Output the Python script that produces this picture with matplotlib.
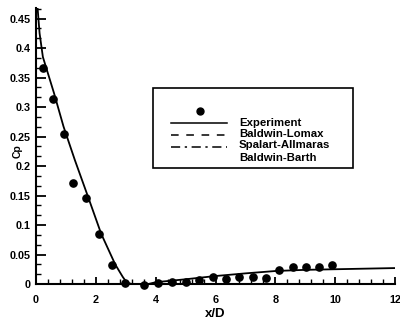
import matplotlib
matplotlib.use("Agg")
import matplotlib.pyplot as plt
from matplotlib.ticker import MultipleLocator, FixedLocator
from matplotlib.lines import Line2D
from matplotlib.patches import Rectangle

# Experimental pressure coefficient along the wall
exp_x = [0.25, 0.58, 0.93, 1.25, 1.68, 2.09, 2.54, 2.99, 3.62, 4.07, 4.55, 5.0,
         5.45, 5.9, 6.34, 6.79, 7.24, 7.68, 8.13, 8.58, 9.03, 9.47, 9.9]
exp_cp = [0.366, 0.314, 0.254, 0.172, 0.145, 0.085, 0.033, 0.002, -0.002, 0.001,
          0.004, 0.004, 0.006, 0.012, 0.008, 0.012, 0.012, 0.011, 0.024, 0.029,
          0.029, 0.029, 0.033]

# Computed pressure coefficient
cfd_x = [0.05, 0.12, 0.23, 0.6, 0.92, 1.3, 1.76, 2.18, 2.65, 2.9, 3.04, 3.3, 3.6,
         4.0, 5.0, 6.0, 7.0, 8.0, 9.0, 10.0, 11.0, 12.0]
cfd_cp = [0.47, 0.425, 0.385, 0.324, 0.267, 0.21, 0.145, 0.085, 0.033, 0.012,
          0.002, -0.001, -0.002, 0.003, 0.008, 0.0135, 0.018, 0.022, 0.024, 0.025,
          0.026, 0.027]

x_ticks = [0, 2, 4, 6, 8, 10, 12]
y_ticks = [0, 0.05, 0.1, 0.15, 0.2, 0.25, 0.3, 0.35, 0.4, 0.45]
y_tick_labels = ["0", "0.05", "0.1", "0.15", "0.2", "0.25", "0.3", "0.35", "0.4", "0.45"]
legend_labels = ["Experiment", "Baldwin-Lomax", "Spalart-Allmaras", "Baldwin-Barth"]

plt.rcParams["font.family"] = ["Liberation Sans", "DejaVu Sans"]

fig = plt.figure(figsize=(4.0, 3.21), dpi=100)
ax = fig.add_axes([0.09, 0.1153, 0.8975, 0.8597])

ax.plot(cfd_x, cfd_cp, color="black", lw=1.3, solid_capstyle="butt")
ax.plot(exp_x, exp_cp, "o", color="black", ms=5.2, clip_on=False, zorder=3)

ax.set_xlim(0, 12)
ax.set_ylim(0, 0.468)

for s in ["top", "right"]:
    ax.spines[s].set_visible(False)
for s in ["left", "bottom"]:
    ax.spines[s].set_linewidth(1.5)

ax.xaxis.set_major_locator(FixedLocator(x_ticks))
ax.xaxis.set_minor_locator(MultipleLocator(0.4))
ax.yaxis.set_major_locator(FixedLocator(y_ticks))
ax.yaxis.set_minor_locator(MultipleLocator(0.05 / 3))
ax.set_yticklabels(y_tick_labels)
ax.set_xticklabels([str(v) for v in x_ticks])

ax.tick_params(axis="both", which="major", direction="in", width=1.3,
               labelsize=7.8, colors="black")
ax.tick_params(axis="y", which="major", length=7, pad=4)
ax.tick_params(axis="x", which="major", length=5, pad=8)
ax.tick_params(axis="both", which="minor", direction="in", length=3.5, width=1.0)
for lbl in ax.get_xticklabels() + ax.get_yticklabels():
    lbl.set_fontweight("bold")

ax.set_xlabel("x/D", fontsize=9.5, fontweight="bold", labelpad=2)
fig.text(0.045, 1 - 151 / 321, "Cp", rotation=90, fontsize=7.5, fontweight="bold",
         ha="center", va="center")

# Legend panel drawn in figure pixel space
def fx(px):
    return px / 400

def fy(py):
    return 1 - py / 321

fig.patches.append(Rectangle((fx(152.5), fy(168)), fx(353) - fx(152.5), fy(88) - fy(168),
                             transform=fig.transFigure, fill=True, facecolor="white",
                             edgecolor="black", lw=1.2, zorder=5))
fig.lines.append(Line2D([fx(200)], [fy(111)], marker="o", ms=5, color="black",
                        transform=fig.transFigure, zorder=6))
styles = ["-", (0, (5, 5)), (0, (6, 3, 1.5, 3))]
line_rows = [123, 135, 147]
for ls, row in zip(styles, line_rows):
    fig.lines.append(Line2D([fx(171), fx(227)], [fy(row), fy(row)], ls=ls, lw=1.1,
                            color="black", transform=fig.transFigure, zorder=6))
text_rows = [122.5, 134, 145.5, 158]
for lab, row in zip(legend_labels, text_rows):
    fig.text(fx(239), fy(row), lab, fontsize=8.2, fontweight="bold", ha="left",
             va="center", zorder=7)

fig.savefig("out.png", dpi=100)
